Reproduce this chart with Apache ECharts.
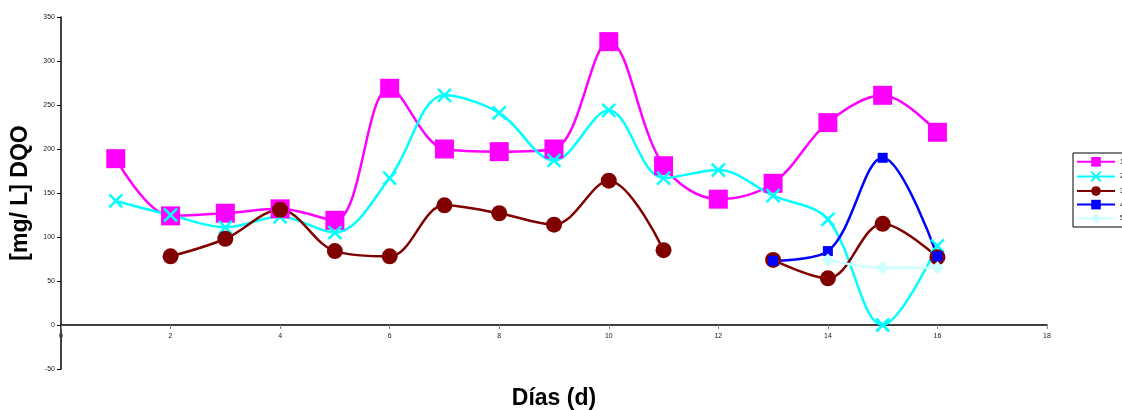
<!DOCTYPE html>
<html><head><meta charset="utf-8">
<script src="https://cdn.jsdelivr.net/npm/echarts@6/dist/echarts.min.js"></script>
<style>html,body{margin:0;padding:0;background:#fff}#c{width:1122px;height:410px}</style>
</head><body><div id="c"></div>
<script>
const days = [1,2,3,4,5,6,7,8,9,10,11,12,13,14,15,16];
const s1 = [189,124,127,132,119,269,200,197,200,322,181,143,161,230,261,219];
const s2 = [141,125,111,123,105,167,261,241,187,244,167,176,147,120,0,90];
const s3 = [null,78,98,131,84,78,136,127,114,164,85,null,74,53,115,77];
const s4 = [null,null,null,null,null,null,null,null,null,null,null,null,73,84,190,78];
const s5 = [null,null,null,null,null,null,null,null,null,null,null,null,null,74,65,65];
const names = ['1','2','3','4','5'];

function pairs(arr){ return days.map((d,i)=>[d,arr[i]]); }
const font = 'Liberation Sans, Arial, sans-serif';
const chart = echarts.init(document.getElementById('c'), null, {renderer:'canvas'});
function ser(name, data, color, symbol, size, extra){
  return Object.assign({
    name, type:'line', data:pairs(data), smooth:0.35, connectNulls:false,
    symbol, symbolSize:size, showAllSymbol:true,
    lineStyle:{color, width:2.5},
    itemStyle:{color, opacity:1},
    emphasis:{disabled:true}, animation:false
  }, extra||{});
}
chart.setOption({
  animation:false,
  grid:{left:61, right:75, top:17, bottom:41, containLabel:false, outerBoundsMode:'none'},
  legend:{
    orient:'vertical', left:1073, top:153, itemWidth:38, itemHeight:12, itemGap:4,
    padding:[4,3,4,3], borderColor:'#000', borderWidth:1,
    textStyle:{fontSize:7, fontFamily:font, color:'#000'},
    data:names
  },
  xAxis:{
    type:'value', min:0, max:18, interval:2, offset:-44,
    name:'Días (d)', nameLocation:'middle', nameGap:62,
    nameTextStyle:{fontSize:23, fontWeight:'bold', fontFamily:font, color:'#000'},
    axisLine:{onZero:false, lineStyle:{color:'#000', width:1.5}},
    axisTick:{show:true, length:4, inside:false, lineStyle:{color:'#888'}},
    axisLabel:{fontSize:7, fontFamily:font, color:'#222', margin:8},
    splitLine:{show:false}
  },
  yAxis:{
    type:'value', min:-50, max:350, interval:50,
    name:'[mg/ L] DQO', nameLocation:'middle', nameGap:28,
    nameTextStyle:{fontSize:23, fontWeight:'bold', fontFamily:font, color:'#000'},
    axisLine:{show:true, lineStyle:{color:'#000', width:1.5}},
    axisTick:{show:true, length:4, lineStyle:{color:'#000'}},
    axisLabel:{fontSize:7, fontFamily:font, color:'#222', margin:6},
    splitLine:{show:false}
  },
  series:[
    ser(names[0], s1, '#FF00FF', 'rect', 19),
    ser(names[1], s2, '#00FFFF', 'path://M0,0L10,10M10,0L0,10', 13,
        {itemStyle:{color:'#00FFFF', borderColor:'#00FFFF', borderWidth:2.5}}),
    ser(names[2], s3, '#800000', 'circle', 16),
    ser(names[3], s4, '#0000FF', 'rect', 10),
    ser(names[4], s5, '#CCFFFF', 'diamond', 13)
  ]
});
</script></body></html>
